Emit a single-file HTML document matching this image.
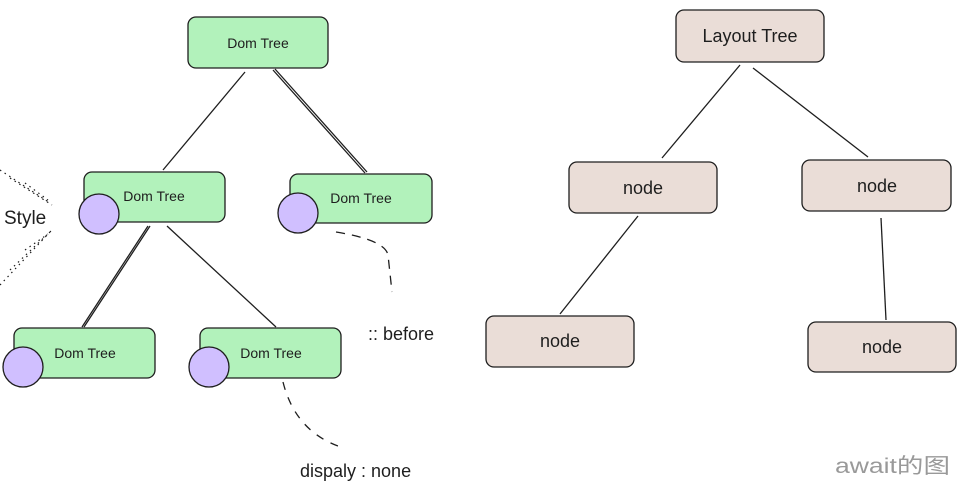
<!DOCTYPE html>
<html><head><meta charset="utf-8"><style>
html,body{margin:0;padding:0;background:#fff;width:959px;height:486px;overflow:hidden}
text{font-family:"Liberation Sans","Noto Sans CJK SC",sans-serif;fill:#1e1e1e}
</style></head><body>
<svg width="959" height="486" viewBox="0 0 959 486" xmlns="http://www.w3.org/2000/svg">
<g stroke="#1e1e1e" stroke-width="1.3" fill="none">
<line x1="245" y1="72" x2="163" y2="170"/>
<line x1="273" y1="70" x2="365" y2="173"/><line x1="275" y1="69" x2="367" y2="172"/>
<line x1="148" y1="226" x2="82" y2="327"/><line x1="150" y1="226" x2="84" y2="327"/>
<line x1="167" y1="226" x2="276" y2="327"/>
<line x1="740" y1="65" x2="662" y2="158"/>
<line x1="753" y1="68" x2="868" y2="157"/>
<line x1="638" y1="216" x2="560" y2="314"/>
<line x1="881" y1="218" x2="886" y2="320"/>
<path d="M336 232 Q385 240 388 255 L392 292" stroke-dasharray="9 7"/>
<path d="M283 382 Q295 430 338 446" stroke-dasharray="8 8"/>
<g stroke-dasharray="1.5 4" stroke-width="1.2">
<path d="M0 170 L50 203"/><path d="M10 178 L52 205"/><path d="M25 183 L48 200"/>
<path d="M0 285 L50 232"/><path d="M10 270 L52 230"/><path d="M25 250 L48 234"/>
</g>
</g>
<g stroke="#1e1e1e" stroke-width="1.3" fill="#b2f2bb">
<rect x="188" y="17" width="140" height="51" rx="8"/>
<rect x="84" y="172" width="141" height="50" rx="8"/>
<rect x="290" y="174" width="142" height="49" rx="8"/>
<rect x="14" y="328" width="141" height="50" rx="8"/>
<rect x="200" y="328" width="141" height="50" rx="8"/>
</g>
<g stroke="#1e1e1e" stroke-width="1.3" fill="#d0bfff">
<circle cx="99" cy="214" r="20"/>
<circle cx="298" cy="213" r="20"/>
<circle cx="23" cy="367" r="20"/>
<circle cx="209" cy="367" r="20"/>
</g>
<g stroke="#1e1e1e" stroke-width="1.3" fill="#eaddd7">
<rect x="676" y="10" width="148" height="52" rx="8"/>
<rect x="569" y="162" width="148" height="51" rx="8"/>
<rect x="802" y="160" width="149" height="51" rx="8"/>
<rect x="486" y="316" width="148" height="51" rx="8"/>
<rect x="808" y="322" width="148" height="50" rx="8"/>
</g>
<g font-size="14" text-anchor="middle">
<text x="258" y="48">Dom Tree</text>
<text x="154" y="201">Dom Tree</text>
<text x="361" y="203">Dom Tree</text>
<text x="85" y="358">Dom Tree</text>
<text x="271" y="358">Dom Tree</text>
</g>
<g font-size="18" text-anchor="middle">
<text x="750" y="42">Layout Tree</text>
<text x="643" y="194">node</text>
<text x="877" y="192">node</text>
<text x="560" y="347">node</text>
<text x="882" y="353">node</text>
</g>
<text x="4" y="224" font-size="19">Style</text>
<text x="368" y="340" font-size="18">:: before</text>
<text x="300" y="477" font-size="18">dispaly : none</text>
<text x="835" y="473" font-size="21" textLength="115" lengthAdjust="spacingAndGlyphs" style="fill:#999">await的图</text>
</svg>
</body></html>
